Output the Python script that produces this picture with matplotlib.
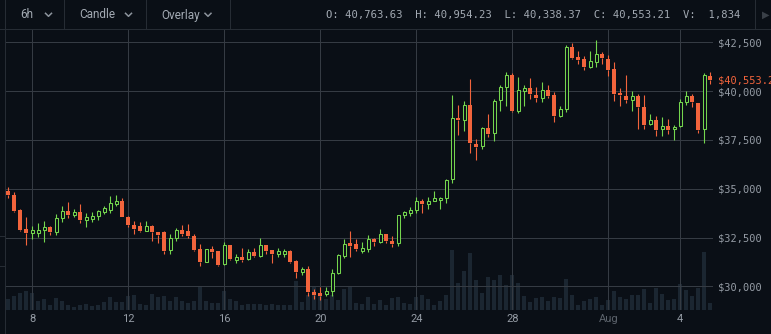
import pandas as pd
import matplotlib
matplotlib.use('Agg')
import matplotlib.pyplot as plt
import matplotlib.dates as mdates
from matplotlib.patches import Rectangle
from matplotlib.transforms import blended_transform_factory

# 6h BTC candles, 7 Jul 2021 -> 5 Aug 2021
opens = [34900, 34700, 33920, 32920, 32740, 32740, 32880, 33030, 32770, 33520,
         33870, 33660, 33820, 33400, 33450, 33610, 33820, 33900, 34230, 34390,
         33570, 33140, 33090, 32840, 33080, 32770, 32790, 31840, 32470, 32870,
         32820, 32570, 31900, 31260, 31900, 31800, 31120, 32110, 31340, 31510,
         31400, 31750, 31570, 32110, 31840, 31630, 31670, 31810, 31280, 30710,
         30870, 29730, 29680, 29630, 29780, 30680, 31540, 32210, 32160, 31800,
         31920, 32410, 32280, 32670, 32330, 32230, 33650, 33760, 33910, 34380,
         34220, 34380, 34410, 34510, 35480, 38630, 38530, 39300, 37310, 37170,
         38110, 37830, 39520, 40200, 40830, 38990, 40030, 40170, 39810, 39670,
         40070, 39810, 38700, 39080, 42250, 41750, 41650, 41210, 41510, 41900,
         41650, 41140, 39910, 39760, 39550, 39760, 39200, 38290, 38520, 38040,
         38210, 38040, 38190, 39440, 39760, 39380, 38040, 40763.63]
highs = [35100, 34830, 33960, 33540, 33090, 33240, 33330, 33090, 33700, 34100,
         34320, 33960, 34220, 33750, 33820, 33900, 34110, 34650, 34700, 34530,
         33600, 33360, 33310, 33330, 33130, 32790, 32840, 32700, 32980, 33130,
         33180, 32700, 32160, 31900, 32060, 31820, 32250, 32120, 31630, 31940,
         31890, 31940, 32450, 32120, 31850, 31940, 31900, 31880, 31370, 30990,
         31040, 29870, 29950, 29950, 30900, 31670, 32410, 32830, 32400, 32280,
         32620, 32500, 32910, 32680, 32600, 33660, 33860, 34070, 34580, 34480,
         34600, 34900, 34570, 35520, 39810, 39300, 39500, 40630, 37560, 38170,
         38840, 39590, 40290, 40970, 40930, 40700, 40300, 40660, 40220, 40460,
         40300, 39950, 39250, 42360, 42450, 42060, 41800, 42060, 42620, 42020,
         41850, 41510, 40150, 40830, 39980, 39840, 39810, 38820, 38740, 38650,
         38570, 38280, 39590, 39980, 39860, 39380, 40950, 40954.23]
lows = [34500, 33800, 32850, 32140, 32400, 32530, 32270, 32650, 32650, 33310,
        33520, 33570, 33260, 33050, 33310, 33400, 33700, 33770, 34100, 33570,
        33050, 32700, 32760, 32840, 32330, 32230, 31680, 31630, 32330, 32570,
        32470, 31800, 31060, 31260, 31430, 31060, 31090, 31360, 31170, 31260,
        31340, 31510, 31510, 31630, 31170, 31510, 31480, 31190, 30440, 30560,
        29520, 29350, 29300, 29520, 29520, 30640, 31470, 31500, 31810, 31730,
        31740, 32050, 32230, 32240, 32020, 32090, 33480, 33580, 33770, 33740,
        33960, 34360, 33970, 34280, 35300, 37730, 37940, 36810, 36450, 37020,
        37630, 37430, 38960, 39260, 38910, 38860, 39260, 39590, 39420, 39420,
        39640, 38400, 38650, 38920, 41630, 41390, 41090, 41160, 41220, 41390,
        40760, 39470, 39260, 39370, 38960, 38040, 38040, 38240, 37720, 37680,
        37800, 37510, 38160, 39300, 39210, 37830, 37340, 40338.37]
closes = [34670, 33870, 32880, 32740, 32880, 32880, 33030, 32770, 33490, 33850,
          33660, 33820, 33400, 33560, 33590, 33850, 33990, 34270, 34370, 33570,
          33140, 32960, 32830, 33080, 32770, 32640, 31800, 32470, 32870, 32700,
          32570, 31850, 31260, 31900, 31770, 31090, 32110, 31400, 31510, 31340,
          31740, 31570, 32110, 31820, 31630, 31800, 31820, 31240, 30730, 30880,
          29700, 29580, 29520, 29780, 30690, 31590, 32190, 32050, 31900, 31950,
          32410, 32260, 32670, 32330, 32170, 33650, 33810, 33910, 34380, 34220,
          34380, 34500, 34530, 35450, 38620, 38500, 39300, 37320, 37150, 38110,
          37820, 39500, 40200, 40830, 38990, 40070, 40170, 39830, 39660, 40070,
          39760, 38700, 39080, 42250, 41720, 41600, 41210, 41530, 41900, 41680,
          41100, 39860, 39780, 39550, 39760, 39160, 38280, 38520, 38020, 38210,
          38020, 38160, 39440, 39740, 39420, 38020, 40810, 40553.21]
volumes = [2830, 3570, 4320, 4640, 4320, 2330, 2650, 1170, 2900, 2330,
           1340, 670, 1340, 1590, 1090, 1340, 1910, 3150, 1910, 1910,
           3400, 3820, 1590, 1340, 4070, 3220, 3570, 2160, 3220, 2160,
           1840, 2330, 5880, 2330, 1840, 1840, 4640, 2650, 2160, 1240,
           1410, 1410, 1610, 1240, 1490, 1360, 1360, 1340, 7120, 1980,
           3820, 5880, 4070, 2830, 3650, 2580, 5310, 5700, 1660, 1590,
           3220, 1590, 2580, 1340, 2900, 3320, 1840, 1590, 3320, 3820,
           2830, 1340, 2330, 3820, 14810, 6800, 9600, 14240, 7370, 4320,
           8230, 7560, 8780, 6150, 8780, 6800, 3570, 2080, 3080, 3320,
           2330, 3320, 3080, 7790, 3820, 1340, 2230, 2830, 3320, 1170,
           2580, 4640, 3150, 2830, 3820, 3820, 5310, 1840, 5560, 4070,
           2580, 2830, 6550, 5060, 3570, 5560, 14380, 1834]
times = pd.date_range('2021-07-07 00:00', periods=len(closes), freq='6h')

price_ticks = [30000, 32500, 35000, 37500, 40000, 42500]
day_ticks = ['2021-07-08', '2021-07-12', '2021-07-16', '2021-07-20',
             '2021-07-24', '2021-07-28', '2021-08-01', '2021-08-04']
day_labels = ['8', '12', '16', '20', '24', '28', 'Aug', '4']

BG = '#0a0f16'
GRID = '#353b43'
TXT = '#959ca5'
RED = '#f2643c'
GREEN = '#74d64e'
VOL = '#1b2631'
W, H = 771, 334

fig = plt.figure(figsize=(W / 100, H / 100), dpi=100, facecolor=BG)
rect = [5 / W, 1 - 310 / H, 708 / W, 280 / H]

# volume underneath, price on top
ax_vol = fig.add_axes(rect)
ax = fig.add_axes(rect, sharex=ax_vol)
ax.patch.set_alpha(0)

x = mdates.date2num(times)
day = 1.0
ax_vol.bar(x, volumes, width=0.155 * day, color=VOL, linewidth=0)
ax_vol.set_ylim(0, 280 * 248)
ax_vol.set_axis_off()

t0 = mdates.date2num(pd.Timestamp('2021-07-07'))
ax.set_xlim(t0 - 0.1375, t0 + 29.36)
ax.set_ylim(28786, 43130)

px = 1 / 19.52 * 1000  # price per pixel
for xi, o, h, l, c in zip(x, opens, highs, lows, closes):
    up = c >= o
    col = GREEN if up else RED
    top, bot = max(o, c), min(o, c)
    if top - bot < px:
        top = bot + px
    ax.vlines(xi, top, h, color=col, lw=0.8, zorder=3)
    ax.vlines(xi, l, bot, color=col, lw=0.8, zorder=3)
    if up:
        ax.add_patch(Rectangle((xi - 0.0625, bot), 0.125, top - bot,
                               facecolor=BG, edgecolor=col, lw=0.75, zorder=4))
    else:
        ax.add_patch(Rectangle((xi - 0.0833, bot), 0.1667, top - bot,
                               facecolor=col, edgecolor='none', zorder=4))

ax.set_yticks(price_ticks)
ax.set_yticklabels(['${:,}'.format(p) for p in price_ticks],
                   family='DejaVu Sans Mono', fontsize=7.5, color=TXT)
ax.yaxis.tick_right()
ax.set_xticks(mdates.date2num(pd.to_datetime(day_ticks)))
ax.set_xticklabels(day_labels, family='Roboto', fontsize=8, color=TXT)
ax.get_xticklabels()[6].set_color('#5c636c')
ax.tick_params(length=0)
ax.tick_params(axis='y', pad=3.6)
ax.tick_params(axis='x', pad=3)
ax.grid(True, color=GRID, lw=0.75)
ax.set_axisbelow(True)
for s in ax.spines.values():
    s.set_visible(False)

last = closes[-1]
ax.annotate('${:,.2f}'.format(last), xy=(1, last),
            xycoords=blended_transform_factory(ax.transAxes, ax.transData),
            xytext=(3.6, 0), textcoords='offset points', va='center', ha='left',
            family='DejaVu Sans Mono', fontsize=7.5, color=RED,
            bbox=dict(facecolor=BG, edgecolor='none', pad=0.3), annotation_clip=False)

# toolbar across the top
top = fig.add_axes([0, 0, 1, 1], zorder=10)
top.patch.set_alpha(0)
top.set_xlim(0, W)
top.set_ylim(H, 0)
top.set_axis_off()
top.plot([0, W], [29, 29], color='#262c34', lw=0.75)
for xv in [64, 146, 230, 755]:
    top.plot([xv, xv], [0, 29], color='#262c34', lw=0.75)
top.plot([5, 5], [0, H], color='#262c34', lw=0.75)
for yv in [236, 266]:
    top.plot([0, 5], [yv, yv], color='#262c34', lw=0.75)

for label, cx, chev in [('6h', 27, 48.5), ('Candle', 97.5, 128.5), ('Overlay', 181, 208)]:
    top.text(cx, 15, label, ha='center', va='center', family='Roboto', fontsize=8.5, color='#a3aab3')
    top.plot([chev - 3, chev, chev + 3], [13.3, 16.3, 13.3], color='#8c939c', lw=1.1)

top.text(326, 15, 'O: 40,763.63  H: 40,954.23  L: 40,338.37  C: 40,553.21  V:  1,834',
         ha='left', va='center', family='DejaVu Sans Mono', fontsize=7.6, color='#a3aab3')
top.text(762, 15, '\u25b6', ha='left', va='center', fontsize=7, color='#3a4048')

fig.savefig('out.png', dpi=100, facecolor=BG)
